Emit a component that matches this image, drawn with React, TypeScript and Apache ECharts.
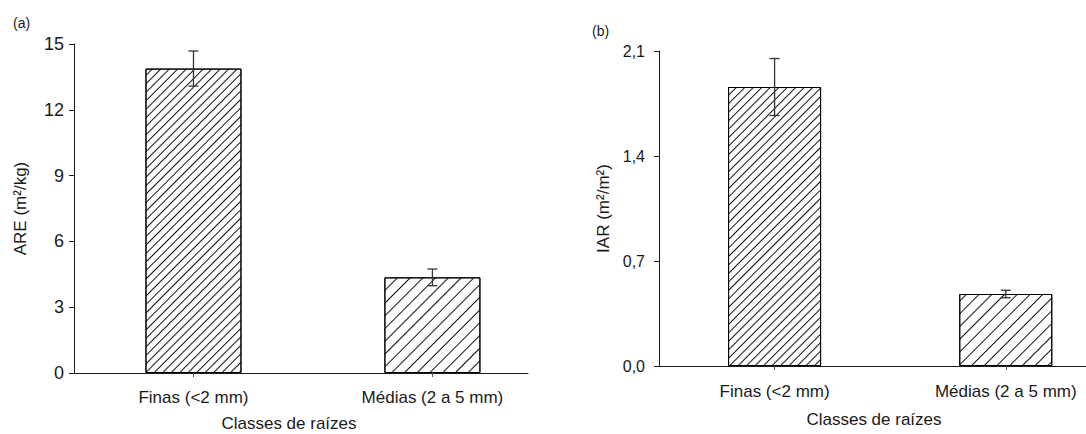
import React, { useEffect, useRef } from "react";
import * as echarts from "echarts";

// Root-class data for the two panels
const categories = ["Finas (<2 mm)", "Médias (2 a 5 mm)"];
const areMeans = [13.88, 4.36];
const areErrors = [0.8, 0.38];
const iarMeans = [1.86, 0.48];
const iarErrors = [0.19, 0.025];
const areTicks = [0, 3, 6, 9, 12, 15];
const iarTicks = [0, 0.7, 1.4, 2.1];
const panelLabels = ["(a)", "(b)"];
const axisNames = ["ARE (m²/kg)", "IAR (m²/m²)"];
const xAxisName = "Classes de raízes";

// gap between hatch lines for each root class (fine roots hatched denser)
const hatchGaps = [5, 8];

const FONT = 'Arial, "Liberation Sans", sans-serif';
const INK = "#1a1a1a";

const hatch = (gap: number) => ({
  symbol: "rect",
  symbolSize: 1,
  color: "#111",
  backgroundColor: "#fff",
  dashArrayX: [1, 0],
  dashArrayY: [1, gap],
  rotation: -Math.PI / 4,
});

const barData = (means: number[]) =>
  means.map((v, i) => ({
    value: [i, v],
    itemStyle: {
      color: "#fff",
      borderColor: "#000",
      borderWidth: 1,
      decal: hatch(hatchGaps[i]),
    },
  }));

// error bars: vertical whisker with caps, mean ± error
const errorSeries = (axis: number, means: number[], errs: number[]) => ({
  type: "custom",
  xAxisIndex: axis,
  yAxisIndex: axis,
  z: 5,
  clip: false,
  data: means.map((v, i) => [i, v]),
  renderItem: (params: any, api: any) => {
    const i = params.dataIndex;
    const x = api.value(0);
    const top = api.coord([x, means[i] + errs[i]]);
    const bot = api.coord([x, means[i] - errs[i]]);
    const cap = 5;
    const style = { stroke: "#333", lineWidth: 1.3 };
    return {
      type: "group",
      children: [
        { type: "line", shape: { x1: top[0], y1: top[1], x2: bot[0], y2: bot[1] }, style },
        { type: "line", shape: { x1: top[0] - cap, y1: top[1], x2: top[0] + cap, y2: top[1] }, style },
        { type: "line", shape: { x1: bot[0] - cap, y1: bot[1], x2: bot[0] + cap, y2: bot[1] }, style },
      ],
    };
  },
});

const makeXAxis = (
  gridIndex: number,
  max: number,
  nameGap: number,
  namePad: number[],
  margin: number
) => ({
  type: "value",
  gridIndex,
  min: -0.5,
  max,
  name: xAxisName,
  nameLocation: "middle",
  nameGap,
  nameTextStyle: { fontFamily: FONT, fontSize: 17, color: INK, padding: namePad },
  splitLine: { show: false },
  axisLine: { show: true, onZero: false, lineStyle: { color: INK, width: 1 } },
  axisTick: { show: true, customValues: [0, 1], length: 4, lineStyle: { color: "#555" } },
  axisLabel: {
    customValues: [0, 1],
    margin,
    fontFamily: FONT,
    fontSize: 17,
    color: INK,
    formatter: (v: number) => categories[Math.round(v)] ?? "",
  },
});

const makeYAxis = (
  gridIndex: number,
  ticks: number[],
  name: string,
  nameGap: number,
  margin: number,
  fontSize: number,
  fmt: (v: number) => string
) => ({
  type: "value",
  gridIndex,
  min: ticks[0],
  max: ticks[ticks.length - 1],
  interval: ticks[1] - ticks[0],
  name,
  nameLocation: "middle",
  nameRotate: 90,
  nameGap,
  nameTextStyle: { fontFamily: FONT, fontSize: 17, color: INK },
  splitLine: { show: false },
  axisLine: { show: true, onZero: false, lineStyle: { color: INK, width: 1 } },
  axisTick: { show: true, length: 5, lineStyle: { color: INK } },
  axisLabel: { margin, fontFamily: FONT, fontSize, color: INK, formatter: fmt },
});

export default function App() {
  const ref = useRef<HTMLDivElement>(null);

  useEffect(() => {
    if (!ref.current) return;
    const chart = echarts.init(ref.current, undefined, { renderer: "svg" });
    chart.setOption({
      animation: false,
      backgroundColor: "#fff",
      grid: [
        { left: 74, top: 44, width: 454, height: 329, outerBoundsMode: "none", containLabel: false },
        { left: 659, top: 51, width: 430, height: 315, outerBoundsMode: "none", containLabel: false },
      ],
      xAxis: [
        makeXAxis(0, 1.4, 42, [0, 24, 0, 0], 16),
        makeXAxis(1, 1.36, 45, [0, 0, 0, 0], 17),
      ],
      yAxis: [
        makeYAxis(0, areTicks, axisNames[0], 45, 10, 18, (v) => String(Math.round(v))),
        makeYAxis(1, iarTicks, axisNames[1], 47, 14, 16, (v) => v.toFixed(1).replace(".", ",")),
      ],
      graphic: [
        { type: "text", left: 13, top: 16, style: { text: panelLabels[0], fontFamily: FONT, fontSize: 14, fill: INK } },
        { type: "text", left: 592, top: 24, style: { text: panelLabels[1], fontFamily: FONT, fontSize: 14, fill: INK } },
      ],
      series: [
        { type: "bar", xAxisIndex: 0, yAxisIndex: 0, barWidth: 96, data: barData(areMeans) },
        { type: "bar", xAxisIndex: 1, yAxisIndex: 1, barWidth: 93, data: barData(iarMeans) },
        errorSeries(0, areMeans, areErrors),
        errorSeries(1, iarMeans, iarErrors),
      ],
    });
    return () => chart.dispose();
  }, []);

  return (
    <div
      ref={ref}
      style={{ position: "absolute", left: 0, top: 0, width: 1086, height: 434 }}
    />
  );
}
